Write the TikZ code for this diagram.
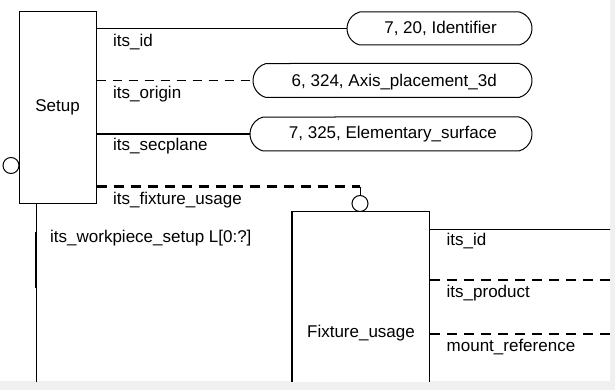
\documentclass[tikz,border=0pt]{standalone}
\usepackage{fontspec}
\setmainfont{Liberation Sans}
\usetikzlibrary{shapes.misc}
\definecolor{edgegray}{RGB}{240,240,240}
\begin{document}
\begin{tikzpicture}[x=1pt,y=-1pt,
  every node/.style={font=\fontsize{17}{20}\selectfont},
  entity/.style={draw, rectangle, line width=1pt, inner sep=0pt, fill=white},
  pill/.style={draw, rounded rectangle, rounded rectangle arc length=150, line width=1pt, inner sep=0pt},
  ring/.style={draw, circle, minimum size=16pt, inner sep=0pt, line width=1pt, fill=white},
  lbl/.style={anchor=base west, inner sep=0pt},
  ptxt/.style={anchor=base east, inner sep=0pt},
  thinline/.style={line width=1pt},
  thickline/.style={line width=2pt},
  thindash/.style={line width=1pt, dash pattern=on 9pt off 7pt},
  thickdash/.style={line width=2.5pt, dash pattern=on 10pt off 7pt}]
\fill[edgegray] (0,0) rectangle (615,390);
\fill[white] (0,0) rectangle (610,381);
\useasboundingbox (0,0) rectangle (615,390);
\begin{scope}
\clip (0,0) rectangle (610,381);
% entities
\node[entity, minimum width=77pt, minimum height=191pt] (setup) at (57.5,107.5) {Setup};
\node[entity, minimum width=137pt, minimum height=244pt] (fix) at (361,333.5) {Fixture\_usage};
\draw[line width=2.5pt] (fix.north west) -- (fix.south west);
% pills
\node[pill, minimum width=185pt, minimum height=33pt] (id1) at (439.5,28.5) {};
\node[pill, minimum width=279pt, minimum height=34pt] (ax) at (392.5,80.5) {};
\node[pill, minimum width=282pt, minimum height=34pt] (es) at (391,134) {};
\node[ptxt] (t1) at (497,34) {7, 20, Identifier};
\node[ptxt] (t2) at (497,87) {6, 324, Axis\_placement\_3d};
\node[ptxt] (t3) at (497,138.5) {7, 325, Elementary\_surface};
% rings
\node[ring] (c1) at (11,165.5) {};
\node[ring] (c2) at (360,203.5) {};
% connectors from Setup
\draw[thinline] (setup.east |- id1.west) -- (id1.west);
\draw[thindash] (setup.east |- ax.west) -- (ax.west);
\draw[thickline] (setup.east |- es.west) -- (es.west);
\coordinate (fuBend) at (360,186.5);
\draw[thickdash] (setup.east |- fuBend) -- (fuBend);
\draw[thinline] (fuBend) -- (c2.north);
\coordinate (wpEnd) at (36,400);
\coordinate (wpA) at (35.5,232);
\coordinate (wpB) at (35.5,288);
\draw[thinline] (setup.south -| wpEnd) -- (wpEnd);
\draw[thickline] (wpA) -- (wpB);
% connectors from Fixture_usage
\coordinate (fxR1) at (612,229.5);
\coordinate (fxR2) at (612,280);
\coordinate (fxR3) at (612,334);
\draw[thinline] (fix.east |- fxR1) -- (fxR1);
\draw[thickdash] (fix.east |- fxR2) -- (fxR2);
\draw[thickdash] (fix.east |- fxR3) -- (fxR3);
% labels
\node[lbl] (l1) at (113,46.5) {its\_id};
\node[lbl] (l2) at (113,99) {its\_origin};
\node[lbl] (l3) at (113,151) {its\_secplane};
\node[lbl] (l4) at (113,204.5) {its\_fixture\_usage};
\node[lbl] (l5) at (50,242.5) {its\_workpiece\_setup L[0:?]};
\node[lbl] (l6) at (446.5,245.5) {its\_id};
\node[lbl] (l7) at (446.5,297.5) {its\_product};
\node[lbl] (l8) at (446.5,351.5) {mount\_reference};
\end{scope}
\end{tikzpicture}
\end{document}
